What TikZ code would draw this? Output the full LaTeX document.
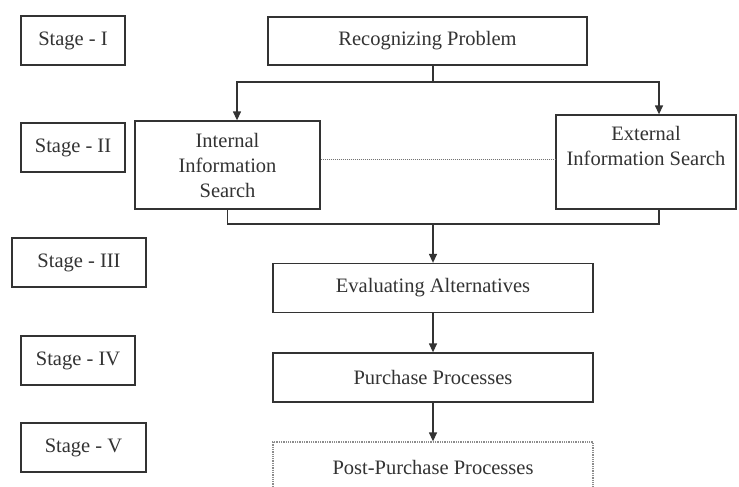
\documentclass[tikz,border=0pt]{standalone}
\usepackage{fontspec}
\setmainfont{Liberation Serif}
\usetikzlibrary{arrows.meta}

\tikzset{
	box/.style = {draw = black!80, line width = 1.3pt, fill = white, text = black!80, inner sep = 0pt, align = center, font = \fontsize{20.5}{25}\selectfont},
	stagebox/.style = {box, minimum height = 49pt},
	procbox/.style = {box, minimum width = 320pt, minimum height = 49pt},
	arr/.style = {draw = black!80, line width = 1.3pt, -{Triangle[length = 9pt, width = 8pt]}},
	link/.style = {draw = black!80, line width = 1.3pt}
}

\begin{document}
\begin{tikzpicture}[x = 1pt, y = -1pt]
	\clip (0, 0) rectangle (739, 487);
	\fill[white] (0, 0) rectangle (739, 487);
	% stages on the left
	\node[stagebox, minimum width = 104pt] (s1) at (73,   40.5) {Stage - I};
	\node[stagebox, minimum width = 104pt] (s2) at (73,  147.5) {Stage - II};
	\node[stagebox, minimum width = 134pt] (s3) at (79,  262.5) {Stage - III};
	\node[stagebox, minimum width = 114pt] (s4) at (78,  360.5) {Stage - IV};
	\node[stagebox, minimum width = 125pt] (s5) at (83.5, 447.5) {Stage - V};
	% process boxes
	\node[box, minimum width = 319pt, minimum height = 48pt] (rp) at (427.5, 41) {Recognizing Problem};
	\node[box, minimum width = 185pt, minimum height = 88pt] (int) at (227.5, 165) {Internal\\Information\\Search};
	\node[box, minimum width = 180pt, minimum height = 94pt] (ext) at (646, 162) {External\\Information Search\\\strut};
	\node[procbox] (ev) at (433, 288) {Evaluating Alternatives};
	\node[procbox] (pp) at (433, 377.5) {Purchase Processes};
	\node[procbox, draw = black!45, densely dotted, minimum height = 50pt] (post) at (433, 467) {Post-Purchase Processes};
	% connectors
	\coordinate (fork) at (433, 82);
	\coordinate (join) at (433, 224);
	\draw[link] (rp.south -| fork) -- (fork);
	\draw[arr] (fork) -| ([xshift = 9.5pt]int.north);
	\draw[arr] (fork) -| ([xshift = 13pt]ext.north);
	\draw[draw = black!55, line width = 1pt, densely dotted] (int.east |- 0, 159) -- (ext.west |- 0, 159);
	\draw[link] (int.south) |- ([xshift = 13pt]ext.south |- join) -- ([xshift = 13pt]ext.south);
	\draw[arr] (join) -- (ev.north);
	\draw[arr] (ev.south) -- (pp.north);
	\draw[arr] (pp.south) -- (post.north);
\end{tikzpicture}
\end{document}
